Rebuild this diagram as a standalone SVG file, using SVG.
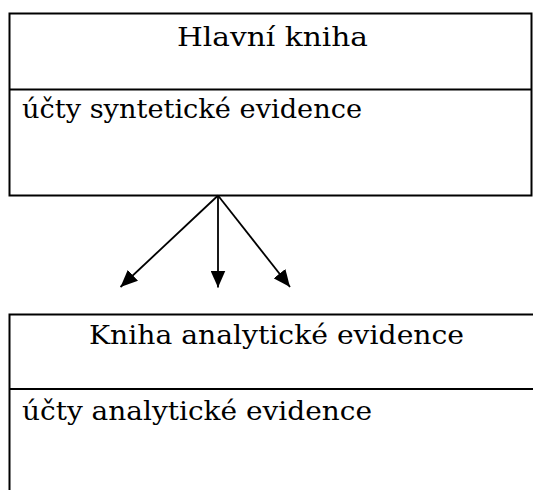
<svg xmlns="http://www.w3.org/2000/svg" width="533" height="490" viewBox="0 0 533 490">
  <style>
    .box { fill: none; stroke: #000; stroke-width: 2; }
    .div { stroke: #000; stroke-width: 2; }
    .t { font-family: "DejaVu Serif", "Liberation Serif", serif; font-size: 26px; fill: #000; }
    .conn { stroke: #000; stroke-width: 1.8; fill: none; }
  </style>
  <defs>
    <marker id="arr" markerUnits="userSpaceOnUse" markerWidth="17" markerHeight="15" refX="17" refY="7.5" orient="auto">
      <path d="M0,0 L17,7.5 L0,15 z" fill="#000"/>
    </marker>
  </defs>
  <rect width="533" height="490" fill="#fff"/>
  <g id="hlavni-kniha">
    <rect class="box" x="9.5" y="13.5" width="522" height="182"/>
    <line class="div" x1="9.5" y1="89.5" x2="531.5" y2="89.5"/>
    <text class="t" x="177" y="46" textLength="191" lengthAdjust="spacingAndGlyphs">Hlavní kniha</text>
    <text class="t" x="22" y="118" textLength="340" lengthAdjust="spacingAndGlyphs">účty syntetické evidence</text>
  </g>
  <g id="kniha-analyticke-evidence">
    <path class="box" d="M9.5,492 L9.5,314.5 L534,314.5"/>
    <line class="div" x1="9.5" y1="389" x2="534" y2="389"/>
    <text class="t" x="89" y="344" textLength="375" lengthAdjust="spacingAndGlyphs">Kniha analytické evidence</text>
    <text class="t" x="22" y="420" textLength="350" lengthAdjust="spacingAndGlyphs">účty analytické evidence</text>
  </g>
  <g id="connectors">
    <line class="conn" x1="218" y1="195.5" x2="120.5" y2="287" marker-end="url(#arr)"/>
    <line class="conn" x1="218" y1="195.5" x2="218" y2="287.5" marker-end="url(#arr)"/>
    <line class="conn" x1="218" y1="195.5" x2="290" y2="287" marker-end="url(#arr)"/>
  </g>
</svg>
